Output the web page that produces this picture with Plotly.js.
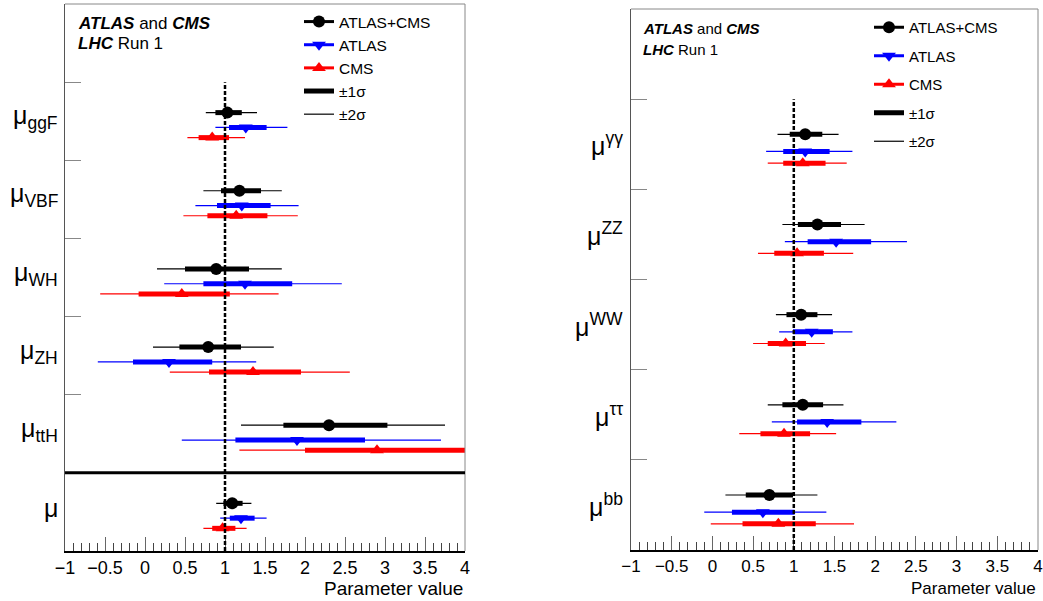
<!DOCTYPE html>
<html>
<head>
<meta charset="utf-8">
<script src="https://cdn.plot.ly/plotly-3.0.1.min.js"></script>
<style>html,body{margin:0;padding:0;background:#fff;}#chart{width:1043px;height:601px;}</style>
</head>
<body>
<div id="chart"></div>
<script>
// ---------------- DATA ----------------
// Left panel: production-mode signal strengths (top to bottom)
const prodLabels = ["μ<sub>ggF</sub>", "μ<sub>VBF</sub>", "μ<sub>WH</sub>", "μ<sub>ZH</sub>", "μ<sub>ttH</sub>", "μ"];
const prodCombC   = [1.03, 1.18, 0.89, 0.79, 2.30, 1.09];
const prodCombLo1 = [0.88, 0.95, 0.50, 0.43, 1.73, 0.98];
const prodCombHi1 = [1.21, 1.45, 1.30, 1.20, 3.03, 1.22];
const prodCombLo2 = [0.76, 0.73, 0.15, 0.10, 1.20, 0.89];
const prodCombHi2 = [1.40, 1.71, 1.71, 1.61, 3.75, 1.33];

const prodAtlasC   = [1.26, 1.21, 1.25, 0.30, 1.90, 1.20];
const prodAtlasLo1 = [1.05, 0.90, 0.73, -0.15, 1.13, 1.06];
const prodAtlasHi1 = [1.52, 1.57, 1.84, 0.84, 2.75, 1.37];
const prodAtlasLo2 = [0.88, 0.63, 0.24, -0.59, 0.46, 0.94];
const prodAtlasHi2 = [1.78, 1.92, 2.46, 1.39, 3.70, 1.52];

const prodCmsC   = [0.84, 1.14, 0.46, 1.35, 2.90, 0.97];
const prodCmsLo1 = [0.67, 0.78, -0.08, 0.80, 2.00, 0.84];
const prodCmsHi1 = [1.05, 1.53, 1.06, 1.95, 4.00, 1.13];
const prodCmsLo2 = [0.53, 0.48, -0.56, 0.31, 1.18, 0.73];
const prodCmsHi2 = [1.25, 1.91, 1.67, 2.56, 5.00, 1.27];

// Right panel: decay-mode signal strengths (top to bottom)
const decayLabels = ["μ<sup>γγ</sup>", "μ<sup>ZZ</sup>", "μ<sup>WW</sup>", "μ<sup>ττ</sup>", "μ<sup>bb</sup>"];
const decCombC   = [1.14, 1.29, 1.09, 1.11, 0.70];
const decCombLo1 = [0.95, 1.05, 0.91, 0.86, 0.41];
const decCombHi1 = [1.35, 1.58, 1.29, 1.36, 0.99];
const decCombLo2 = [0.80, 0.86, 0.78, 0.68, 0.16];
const decCombHi2 = [1.55, 1.87, 1.47, 1.61, 1.29];

const decAtlasC   = [1.14, 1.52, 1.22, 1.41, 0.62];
const decAtlasLo1 = [0.87, 1.17, 0.99, 1.04, 0.24];
const decAtlasHi1 = [1.44, 1.95, 1.48, 1.83, 1.01];
const decAtlasLo2 = [0.66, 0.89, 0.82, 0.73, -0.10];
const decAtlasHi2 = [1.72, 2.39, 1.72, 2.26, 1.40];

const decCmsC   = [1.11, 1.04, 0.90, 0.88, 0.81];
const decCmsLo1 = [0.87, 0.76, 0.68, 0.59, 0.37];
const decCmsHi1 = [1.39, 1.37, 1.15, 1.20, 1.27];
const decCmsLo2 = [0.68, 0.56, 0.50, 0.33, -0.02];
const decCmsHi2 = [1.65, 1.73, 1.38, 1.52, 1.74];

const seriesNames = ["ATLAS+CMS", "ATLAS", "CMS"];
const smValue = 1;

// ---------------- STYLE ----------------
const W = 1043, H = 601;
const FONT = "Liberation Sans, Arial, sans-serif";
const colors = ["#000000", "#0000ff", "#ff0000"];
const symbols = ["circle", "triangle-down", "triangle-up"];
const msizes = [12, 12, 12];
const yOffsets = [0.61, 0.42, 0.29];

function seg(lo, hi, yc) {
  const xs = [], ys = [];
  for (let i = 0; i < lo.length; i++) { xs.push(lo[i], hi[i], null); ys.push(yc[i], yc[i], null); }
  return {xs, ys};
}
function pts(c, yc) {
  const xs = [], ys = [];
  for (let i = 0; i < c.length; i++) { xs.push(c[i], null); ys.push(yc[i], null); }
  return {xs, ys};
}

const traces = [];
function addPanel(nCat, sets, xa, ya, legendId) {
  const twoS = [], oneS = [], mk = [];
  sets.forEach((s, si) => {
    const yc = s.c.map((_, i) => (nCat - 1 - i) + yOffsets[si]);
    const a = seg(s.lo2, s.hi2, yc);
    twoS.push({x: a.xs, y: a.ys, xaxis: xa, yaxis: ya, type: 'scatter', mode: 'lines',
      line: {color: colors[si], width: 1.2}, hoverinfo: 'skip',
      name: '±2σ', showlegend: si === 0, legend: legendId, legendgroup: si === 0 ? legendId + 'g5' : undefined, legendrank: 5});
    const b = seg(s.lo1, s.hi1, yc);
    oneS.push({x: b.xs, y: b.ys, xaxis: xa, yaxis: ya, type: 'scatter', mode: 'lines',
      line: {color: colors[si], width: 5}, hoverinfo: 'skip',
      name: '±1σ', showlegend: si === 0, legend: legendId, legendgroup: si === 0 ? legendId + 'g4' : undefined, legendrank: 4});
    const p = pts(s.c, yc);
    mk.push({x: p.xs, y: p.ys, xaxis: xa, yaxis: ya, type: 'scatter', mode: 'lines+markers',
      line: {color: colors[si], width: 3}, marker: {symbol: symbols[si], size: msizes[si], color: colors[si]},
      hoverinfo: 'skip', name: seriesNames[si], showlegend: true, legend: legendId,
      legendgroup: legendId + 'g' + (si + 1), legendrank: si + 1});
  });
  traces.push(...twoS, ...oneS, ...mk);
}

addPanel(6, [
  {c: prodCombC, lo1: prodCombLo1, hi1: prodCombHi1, lo2: prodCombLo2, hi2: prodCombHi2},
  {c: prodAtlasC, lo1: prodAtlasLo1, hi1: prodAtlasHi1, lo2: prodAtlasLo2, hi2: prodAtlasHi2},
  {c: prodCmsC, lo1: prodCmsLo1, hi1: prodCmsHi1, lo2: prodCmsLo2, hi2: prodCmsHi2}
], 'x', 'y', 'legend');
addPanel(5, [
  {c: decCombC, lo1: decCombLo1, hi1: decCombHi1, lo2: decCombLo2, hi2: decCombHi2},
  {c: decAtlasC, lo1: decAtlasLo1, hi1: decAtlasHi1, lo2: decAtlasLo2, hi2: decAtlasHi2},
  {c: decCmsC, lo1: decCmsLo1, hi1: decCmsHi1, lo2: decCmsLo2, hi2: decCmsHi2}
], 'x2', 'y2', 'legend2');

function xAxis(domain, anchor, fs) {
  return {domain: domain, anchor: anchor, range: [-1, 4], tick0: -1, dtick: 0.5,
    ticks: 'inside', ticklen: 14, tickwidth: 1, tickcolor: '#666',
    minor: {ticks: 'inside', ticklen: 8, tick0: -1, dtick: 0.1, tickcolor: '#444', tickwidth: 1, showgrid: false},
    showgrid: false, zeroline: false, showline: true, linecolor: '#000', linewidth: 1.5,
    tickfont: {family: FONT, size: fs, color: '#000'}, fixedrange: true};
}
function yAxis(domain, anchor, n) {
  const tv = []; for (let i = 1; i <= n; i++) tv.push(i);
  return {domain: domain, anchor: anchor, range: [0, n + 1], tickvals: tv,
    ticks: 'inside', ticklen: 16, tickwidth: 1, tickcolor: '#888', showticklabels: false,
    showgrid: false, zeroline: false, showline: true, linecolor: '#555', linewidth: 1, fixedrange: true};
}

const px = v => v / W, py = v => 1 - v / H;

const annotations = [];
// Category labels
prodLabels.forEach((t, i) => annotations.push({xref: 'paper', yref: 'y', x: px(60), y: (5 - i) + 0.55,
  xanchor: 'right', yanchor: 'middle', text: t, showarrow: false, font: {family: FONT, size: 25, color: '#000'}}));
decayLabels.forEach((t, i) => annotations.push({xref: 'paper', yref: 'y2', x: px(625), y: (4 - i) + 0.5,
  xanchor: 'right', yanchor: 'middle', text: t, showarrow: false, font: {family: FONT, size: 25, color: '#000'}}));
// Header texts
annotations.push({xref: 'paper', yref: 'paper', x: px(76), y: py(24), xanchor: 'left', yanchor: 'middle', showarrow: false,
  text: '<b><i>ATLAS</i></b> and <b><i>CMS</i></b>', font: {family: FONT, size: 17, color: '#000'}});
annotations.push({xref: 'paper', yref: 'paper', x: px(76), y: py(43), xanchor: 'left', yanchor: 'middle', showarrow: false,
  text: '<b><i>LHC</i></b> Run 1', font: {family: FONT, size: 17, color: '#000'}});
annotations.push({xref: 'paper', yref: 'paper', x: px(641), y: py(29), xanchor: 'left', yanchor: 'middle', showarrow: false,
  text: '<b><i>ATLAS</i></b> and <b><i>CMS</i></b>', font: {family: FONT, size: 15, color: '#000'}});
annotations.push({xref: 'paper', yref: 'paper', x: px(641), y: py(49), xanchor: 'left', yanchor: 'middle', showarrow: false,
  text: '<b><i>LHC</i></b> Run 1', font: {family: FONT, size: 15, color: '#000'}});
// Axis titles
annotations.push({xref: 'paper', yref: 'paper', x: px(465), y: py(588), xanchor: 'right', yanchor: 'middle', showarrow: false,
  text: 'Parameter value', font: {family: FONT, size: 19, color: '#000'}});
annotations.push({xref: 'paper', yref: 'paper', x: px(1038), y: py(588), xanchor: 'right', yanchor: 'middle', showarrow: false,
  text: 'Parameter value', font: {family: FONT, size: 17, color: '#000'}});

const shapes = [
  // frames (top and right edges)
  {type: 'line', xref: 'x domain', yref: 'y domain', x0: 0, x1: 1, y0: 1, y1: 1, line: {color: '#888', width: 1}},
  {type: 'line', xref: 'x domain', yref: 'y domain', x0: 1, x1: 1, y0: 0, y1: 1, line: {color: '#888', width: 1}},
  {type: 'line', xref: 'x2 domain', yref: 'y2 domain', x0: 0, x1: 1, y0: 1, y1: 1, line: {color: '#888', width: 1}},
  {type: 'line', xref: 'x2 domain', yref: 'y2 domain', x0: 1, x1: 1, y0: 0, y1: 1, line: {color: '#888', width: 1}},
  // separator between production modes and global mu
  {type: 'line', xref: 'x domain', yref: 'y', x0: 0, x1: 1, y0: 1, y1: 1, line: {color: '#000', width: 3}},
  // SM reference lines
  {type: 'line', xref: 'x', yref: 'y', x0: smValue, x1: smValue, y0: 0, y1: 6, line: {color: '#000', width: 2.5, dash: '4px,2px'}},
  {type: 'line', xref: 'x2', yref: 'y2', x0: smValue, x1: smValue, y0: 0, y1: 5, line: {color: '#000', width: 2.5, dash: '4px,2px'}}
];

const layout = {
  width: W, height: H, margin: {l: 0, r: 0, t: 0, b: 0},
  paper_bgcolor: '#fff', plot_bgcolor: '#fff',
  font: {family: FONT, color: '#000'},
  showlegend: true,
  xaxis: xAxis([px(65), px(465)], 'y', 18),
  yaxis: yAxis([1 - 551 / H, 1 - 4 / H], 'x', 6),
  xaxis2: xAxis([px(631), px(1038)], 'y2', 17),
  yaxis2: yAxis([1 - 550 / H, 1 - 9 / H], 'x2', 5),
  legend: {x: px(299), xanchor: 'left', y: py(5), yanchor: 'top', bgcolor: 'rgba(0,0,0,0)',
    font: {family: FONT, size: 15.5, color: '#000'}, traceorder: 'grouped', tracegroupgap: 0, itemwidth: 30},
  legend2: {x: px(869), xanchor: 'left', y: py(11), yanchor: 'top', bgcolor: 'rgba(0,0,0,0)',
    font: {family: FONT, size: 15, color: '#000'}, traceorder: 'grouped', tracegroupgap: 6, itemwidth: 30},
  annotations: annotations,
  shapes: shapes
};

Plotly.newPlot('chart', traces, layout, {staticPlot: true, displayModeBar: false});
</script>
</body>
</html>
